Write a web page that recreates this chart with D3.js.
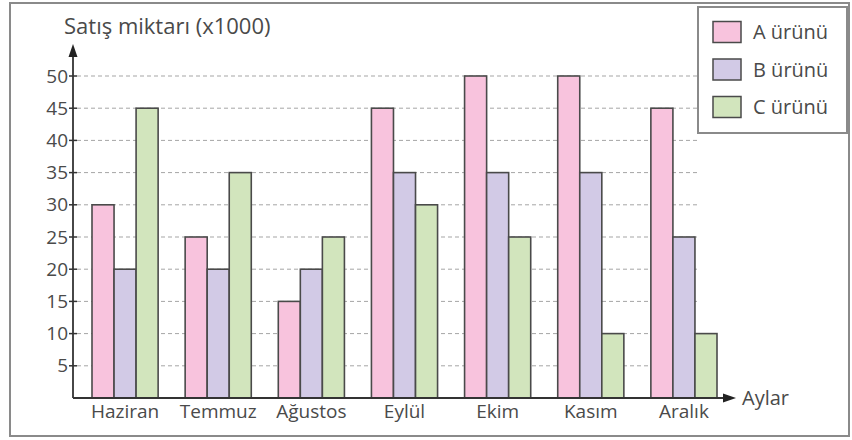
<!DOCTYPE html>
<html><head><meta charset="utf-8">
<script src="https://cdn.jsdelivr.net/npm/d3@7"></script>
<style>body{margin:0;background:#fff}svg{display:block}text{font-family:"Open Sans",sans-serif;fill:#4a4a4a}</style>
</head><body><svg id="c" width="852" height="440"></svg>
<script>
const months = ["Haziran","Temmuz","Ağustos","Eylül","Ekim","Kasım","Aralık"];
const seriesNames = ["A ürünü","B ürünü","C ürünü"];
const seriesA = [30,25,15,45,50,50,45];
const seriesB = [20,20,20,35,35,35,25];
const seriesC = [45,35,25,30,25,10,10];
const yTicks = [5,10,15,20,25,30,35,40,45,50];
const colors = ["#f8c3dd","#d2cae6","#d2e5bd"];
const yTitle = "Satış miktarı (x1000)";
const xTitle = "Aylar";

const svg = d3.select("#c");
const seriesVals = [seriesA, seriesB, seriesC];
const x = d3.scaleBand().domain(months).range([92,717]).paddingInner(0.29).paddingOuter(0);
const xi = d3.scaleBand().domain(d3.range(3)).range([0, x.bandwidth()]);
const y = d3.scaleLinear().domain([0,50]).range([398,76]);

// frame
svg.append("rect").attr("x",10).attr("y",3).attr("width",839).attr("height",433)
  .attr("fill","none").attr("stroke","#8a8a8a").attr("stroke-width",2);

// grid
svg.append("g").selectAll("line").data(yTicks).join("line")
  .attr("x1",77).attr("x2",700).attr("y1",d=>y(d)).attr("y2",d=>y(d))
  .attr("stroke","#a5a5a5").attr("stroke-width",1).attr("stroke-dasharray","4,3");

// bars
const g = svg.append("g");
months.forEach((m,i)=>{
  seriesVals.forEach((s,j)=>{
    g.append("rect").attr("x",x(m)+xi(j)).attr("y",y(s[i]))
      .attr("width",xi.bandwidth()).attr("height",y(0)-y(s[i]))
      .attr("fill",colors[j]).attr("stroke","#4a4a4a").attr("stroke-width",1.6);
  });
});

// y axis
const yAxis = d3.axisLeft(y).tickValues(yTicks).tickSize(0).tickPadding(6);
const ya = svg.append("g").attr("transform","translate(73,0)").call(yAxis);
ya.select(".domain").remove();
ya.selectAll("text").attr("font-size",19).attr("font-family","Open Sans").attr("fill","#4a4a4a").attr("x",-5);
svg.append("g").selectAll("line").data(yTicks).join("line")
  .attr("x1",69).attr("x2",77).attr("y1",d=>y(d)).attr("y2",d=>y(d))
  .attr("stroke","#333").attr("stroke-width",1.5);
svg.append("line").attr("x1",73).attr("x2",73).attr("y1",y(0)).attr("y2",56).attr("stroke","#333").attr("stroke-width",1.8);
svg.append("path").attr("d","M73,44 L68.5,57 L77.5,57 Z").attr("fill","#222");

// x axis
const xAxis = d3.axisBottom(x).tickSize(0).tickPadding(7);
const xa = svg.append("g").attr("transform",`translate(0,${y(0)})`).call(xAxis);
xa.select(".domain").remove();
xa.selectAll("text").attr("font-size",19).attr("font-family","Open Sans").attr("fill","#4a4a4a");
svg.append("line").attr("x1",73).attr("x2",725).attr("y1",y(0)).attr("y2",y(0)).attr("stroke","#333").attr("stroke-width",1.8);
svg.append("path").attr("d",`M736,${y(0)} L723,${y(0)-4.5} L723,${y(0)+4.5} Z`).attr("fill","#222");

svg.append("text").attr("x",742).attr("y",y(0)+7).attr("font-size",20).text(xTitle);
svg.append("text").attr("x",64).attr("y",34).attr("font-size",22).text(yTitle);

// legend
const lg = svg.append("g");
lg.append("rect").attr("x",698).attr("y",7).attr("width",149).attr("height",126)
  .attr("fill","#fff").attr("stroke","#8a8a8a").attr("stroke-width",2);
const ly = d3.scalePoint().domain(seriesNames).range([32,107]);
seriesNames.forEach((n,j)=>{
  lg.append("rect").attr("x",713).attr("y",ly(n)-10.5).attr("width",28).attr("height",21)
    .attr("fill",colors[j]).attr("stroke","#4a4a4a").attr("stroke-width",1.5);
  lg.append("text").attr("x",753).attr("y",ly(n)+7).attr("font-size",20).text(n);
});
</script></body></html>
